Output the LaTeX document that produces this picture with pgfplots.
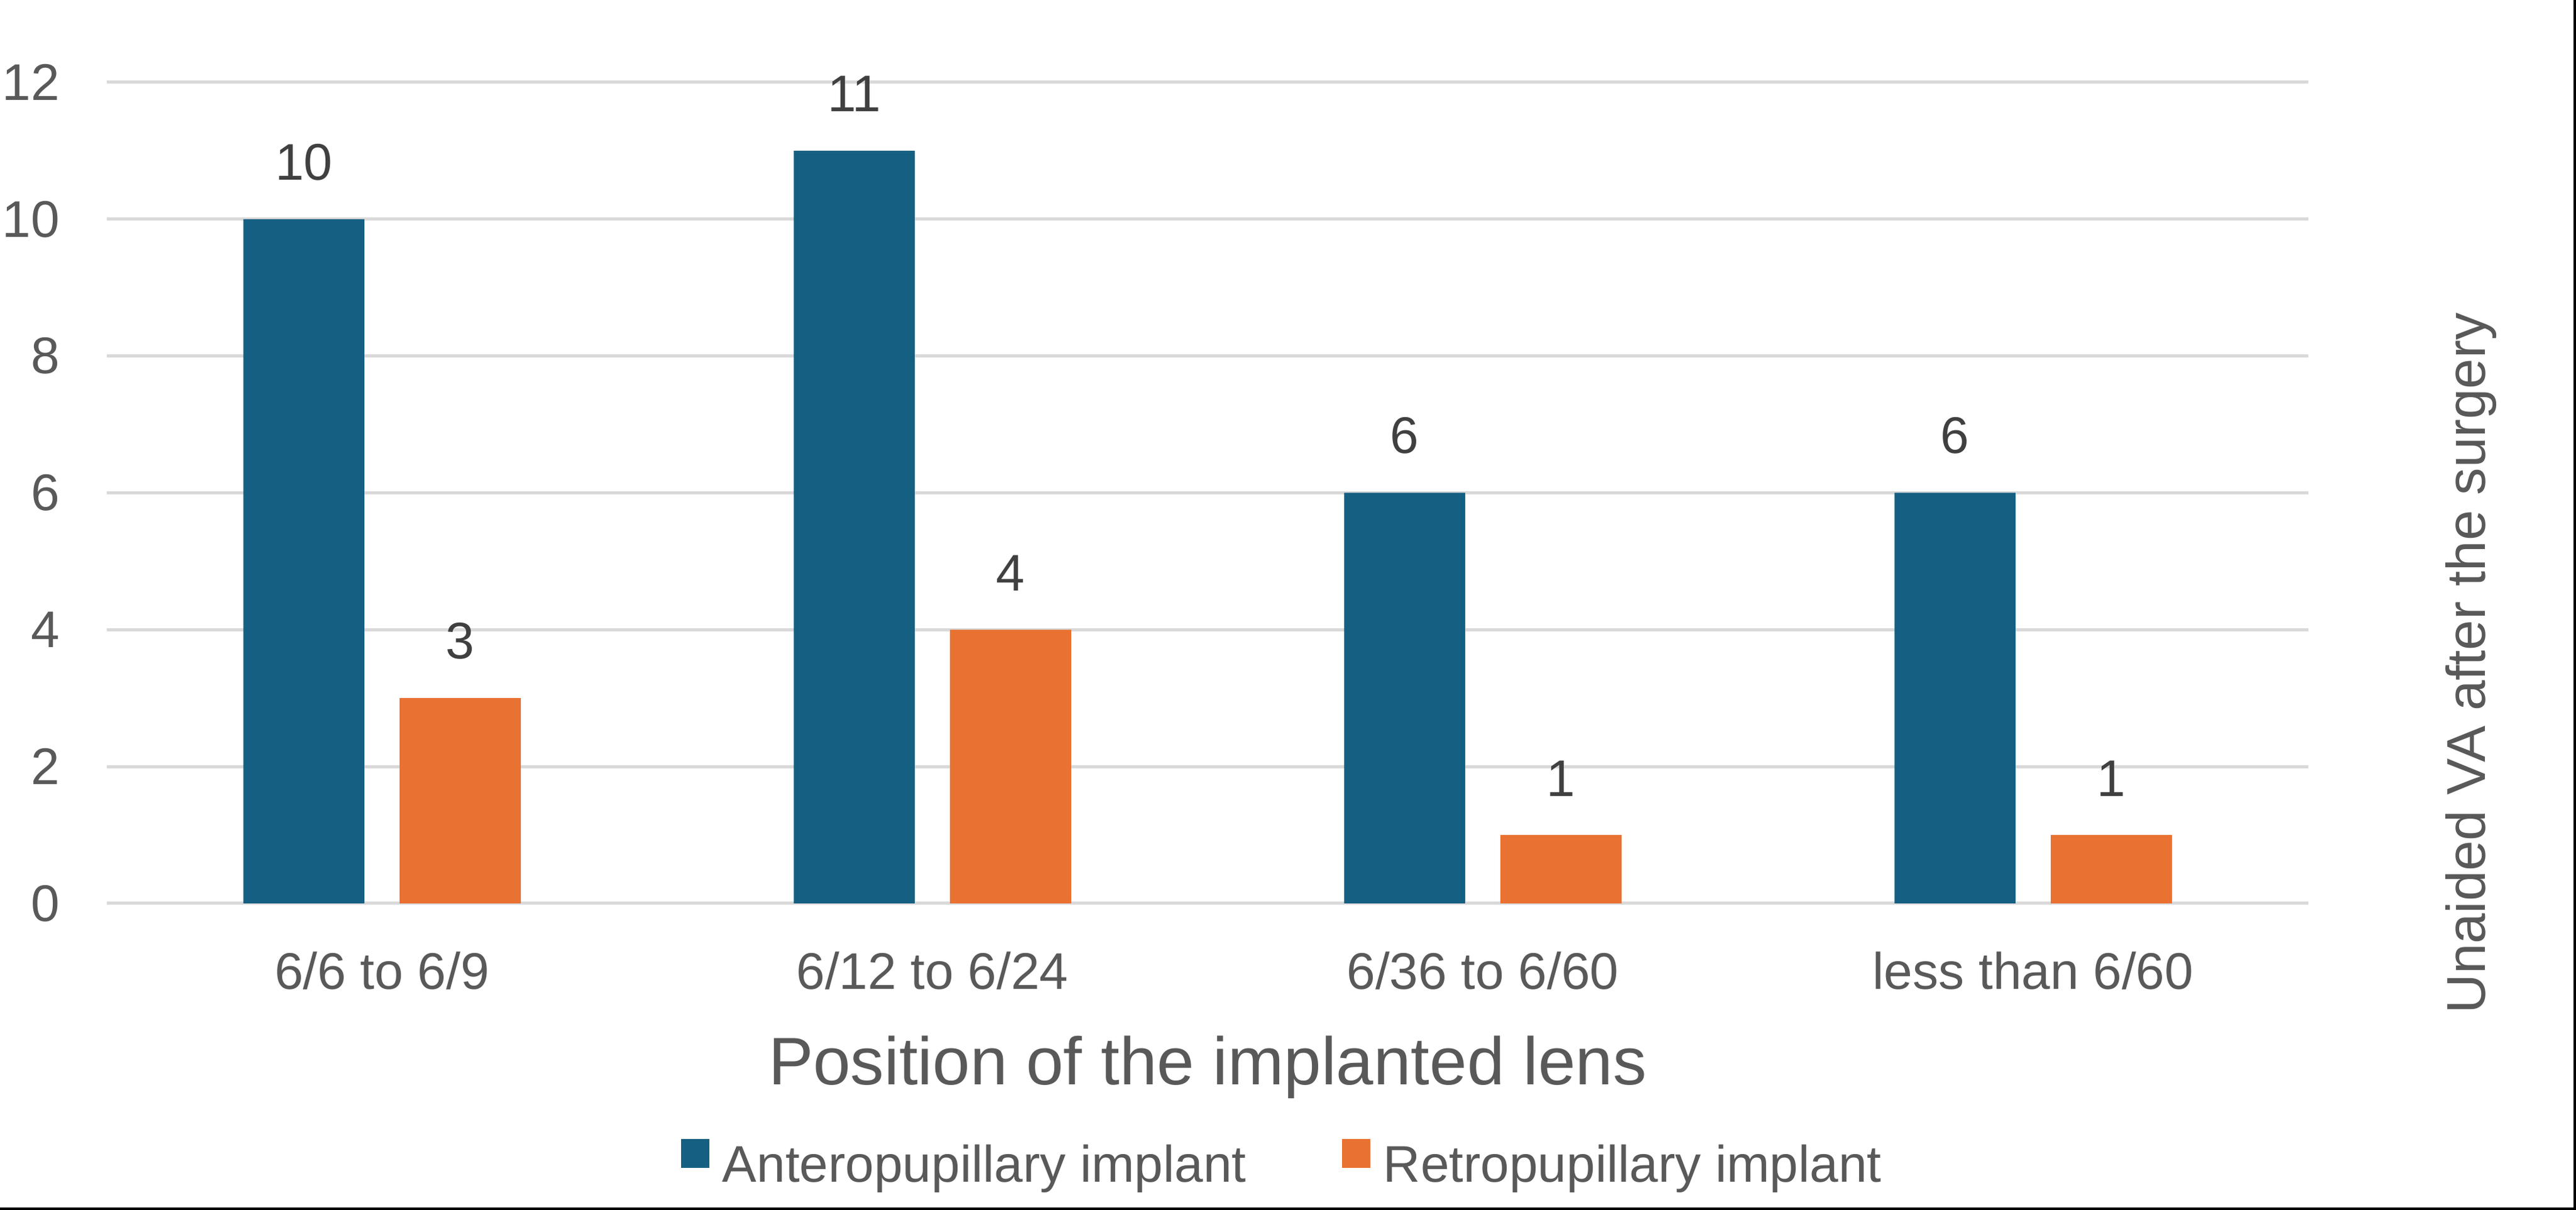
\documentclass[border=0pt]{standalone}
\usepackage{fontspec}
\setmainfont{Liberation Sans}
\usepackage{pgfplots}
\pgfplotsset{compat=1.18}
\definecolor{cblue}{HTML}{156082}
\definecolor{corange}{HTML}{E97132}
\definecolor{cgrid}{HTML}{D9D9D9}
\definecolor{ctext}{HTML}{595959}
\definecolor{clabel}{HTML}{404040}
\begin{document}
\begin{tikzpicture}
\useasboundingbox (0,0) rectangle (410pt,192.6pt);
\begin{axis}[
  at={(17pt,48.8pt)}, anchor=south west,
  scale only axis, width=350.4pt, height=130.7pt,
  ybar, bar width=0.22,
  xmin=-0.5, xmax=3.5, ymin=0, ymax=12,
  clip=false,
  xtick={0,1,2,3},
  xticklabels={6/6 to 6/9, 6/12 to 6/24, 6/36 to 6/60, less than 6/60},
  ytick={0,2,...,12},
  axis line style={draw=none},
  major tick style={draw=none},
  ymajorgrids, grid style={cgrid, line width=0.5pt},
  /pgf/number format/assume math mode=true,
  ticklabel style={font=\fontsize{8.2}{9.8}\selectfont, text=ctext},
  xticklabel style={anchor=base, inner sep=0pt, yshift=-9.4pt},
  yticklabel style={anchor=east, inner sep=0pt, xshift=-7.3pt},
  nodes near coords,
  every node near coord/.append style={font=\fontsize{8.2}{9.8}\selectfont, text=clabel, inner sep=0pt, anchor=south, yshift=6.0pt},
  xlabel={Position of the implanted lens},
  xlabel style={at={(rel axis cs:0.5,0)}, anchor=base, yshift=-28.8pt, inner sep=0pt, font=\fontsize{10.7}{12.8}\selectfont, text=ctext},
  ylabel={Unaided VA after the surgery},
  ylabel style={at={(rel axis cs:1.0739,0.2923)}, anchor=center, inner sep=0pt, font=\fontsize{8.7}{10.4}\selectfont, text=ctext},
  legend columns=2,
  legend cell align=left,
  legend style={at={(rel axis cs:0.5335,-0.3187)}, anchor=center, draw=none, fill=none, inner sep=0pt,
    font=\fontsize{8.2}{9.8}\selectfont, text=ctext, nodes={inner sep=0pt},
    /tikz/every odd column/.append style={column sep=2.1pt},
    /tikz/every even column/.append style={column sep=15.2pt}},
]
\addplot[fill=cblue, draw=none, bar shift=-0.142,
  legend image code/.code={\fill[cblue] (0pt,0pt) rectangle (4.5pt,4.6pt);}]
  coordinates {(0,10) (1,11) (2,6) (3,6)};
\addlegendentry{Anteropupillary implant}
\addplot[fill=corange, draw=none, bar shift=0.142,
  legend image code/.code={\fill[corange] (0pt,0pt) rectangle (4.5pt,4.6pt);}]
  coordinates {(0,3) (1,4) (2,1) (3,1)};
\addlegendentry{Retropupillary implant}
\end{axis}
\draw[black, line width=0.4pt] (409.8pt,0pt) -- (409.8pt,192.6pt);
\draw[black, line width=0.4pt] (0pt,0.2pt) -- (410pt,0.2pt);
\end{tikzpicture}
\end{document}
